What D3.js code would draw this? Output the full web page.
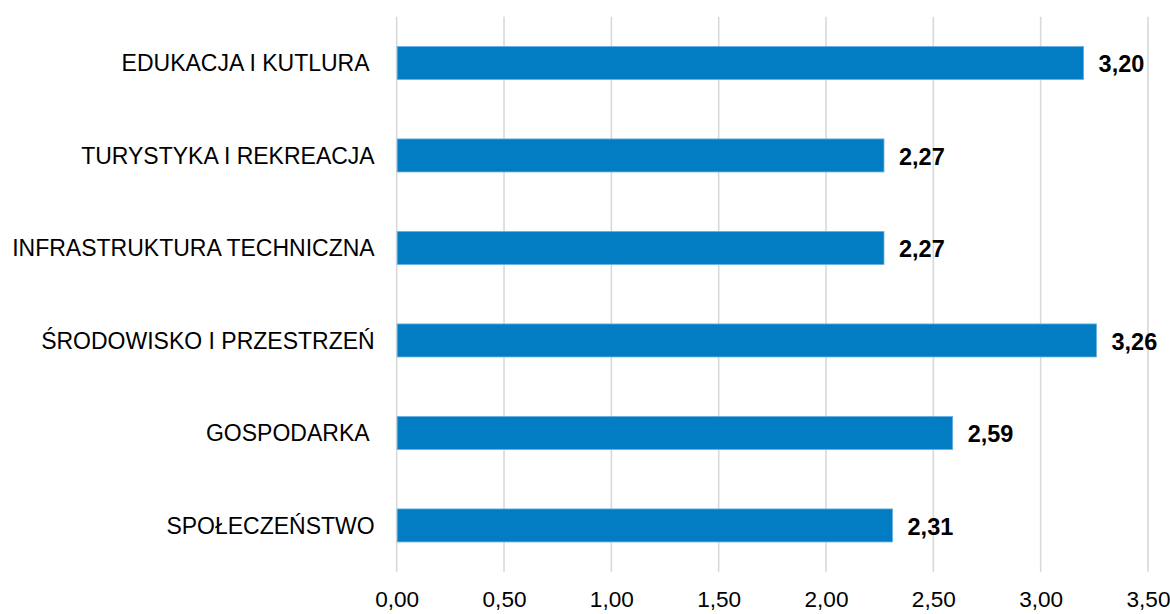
<!DOCTYPE html>
<html>
<head>
<meta charset="utf-8">
<script src="https://cdn.jsdelivr.net/npm/d3@7"></script>
<style>
  html, body { margin: 0; padding: 0; background: #fff; }
  svg { display: block; font-family: "Liberation Sans", Arial, sans-serif; }
</style>
</head>
<body>
<svg id="chart"></svg>
<script>
// top to bottom, as shown
const categories = [
  "EDUKACJA I KUTLURA ",
  "TURYSTYKA I REKREACJA",
  "INFRASTRUKTURA TECHNICZNA",
  "ŚRODOWISKO I PRZESTRZEŃ",
  "GOSPODARKA ",
  "SPOŁECZEŃSTWO"
];
const values = [3.20, 2.27, 2.27, 3.26, 2.59, 2.31];
const xTicks = [0, 0.5, 1, 1.5, 2, 2.5, 3, 3.5];

const width = 1170, height = 614;
const margin = { top: 16.7, right: 22, bottom: 42.3, left: 396.7 };
const innerW = width - margin.left - margin.right;
const innerH = height - margin.top - margin.bottom;

const fmt = v => v.toFixed(2).replace(".", ",");

const svg = d3.select("#chart")
  .attr("width", width)
  .attr("height", height);

const g = svg.append("g")
  .attr("transform", `translate(${margin.left},${margin.top})`);

const x = d3.scaleLinear()
  .domain([0, 3.5])
  .range([0, 751.3]);

const y = d3.scaleBand()
  .domain(categories)
  .range([0, innerH])
  .paddingInner(0.643)
  .paddingOuter(0.3215);

// vertical gridlines
g.append("g")
  .selectAll("line")
  .data(xTicks)
  .join("line")
  .attr("x1", d => x(d))
  .attr("x2", d => x(d))
  .attr("y1", 0)
  .attr("y2", innerH)
  .attr("stroke", "#d9d9d9")
  .attr("stroke-width", 1.6);

// x tick labels
const xAxis = d3.axisBottom(x)
  .tickValues(xTicks)
  .tickFormat(fmt)
  .tickSize(0)
  .tickPadding(0);

g.append("g")
  .attr("transform", `translate(0,${innerH})`)
  .call(xAxis)
  .call(a => a.select(".domain").remove())
  .selectAll("text")
  .attr("y", 35)
  .attr("dy", null)
  .attr("font-size", 22.6)
  .attr("font-family", "Liberation Sans, Arial, sans-serif")
  .attr("fill", "#000");

// category labels
g.append("g")
  .selectAll("text")
  .data(categories)
  .join("text")
  .attr("x", -22)
  .attr("y", d => y(d) + y.bandwidth() / 2 + 8.3)
  .attr("text-anchor", "end")
  .attr("font-size", 23)
  .attr("fill", "#000")
  .style("white-space", "pre")
  .text(d => d);

// bars
g.append("g")
  .selectAll("rect")
  .data(values)
  .join("rect")
  .attr("x", 0.5)
  .attr("y", (d, i) => y(categories[i]))
  .attr("width", d => x(d) - 0.5)
  .attr("height", y.bandwidth())
  .attr("fill", "#027dc4")
  .attr("stroke", "#6aaee0")
  .attr("stroke-width", 0.8);

// value labels
g.append("g")
  .selectAll("text")
  .data(values)
  .join("text")
  .attr("x", d => x(d) + 15)
  .attr("y", (d, i) => y(categories[i]) + y.bandwidth() / 2 + 9.5)
  .attr("font-size", 23.5)
  .attr("font-weight", "bold")
  .attr("fill", "#000")
  .text(d => fmt(d));
</script>
</body>
</html>
